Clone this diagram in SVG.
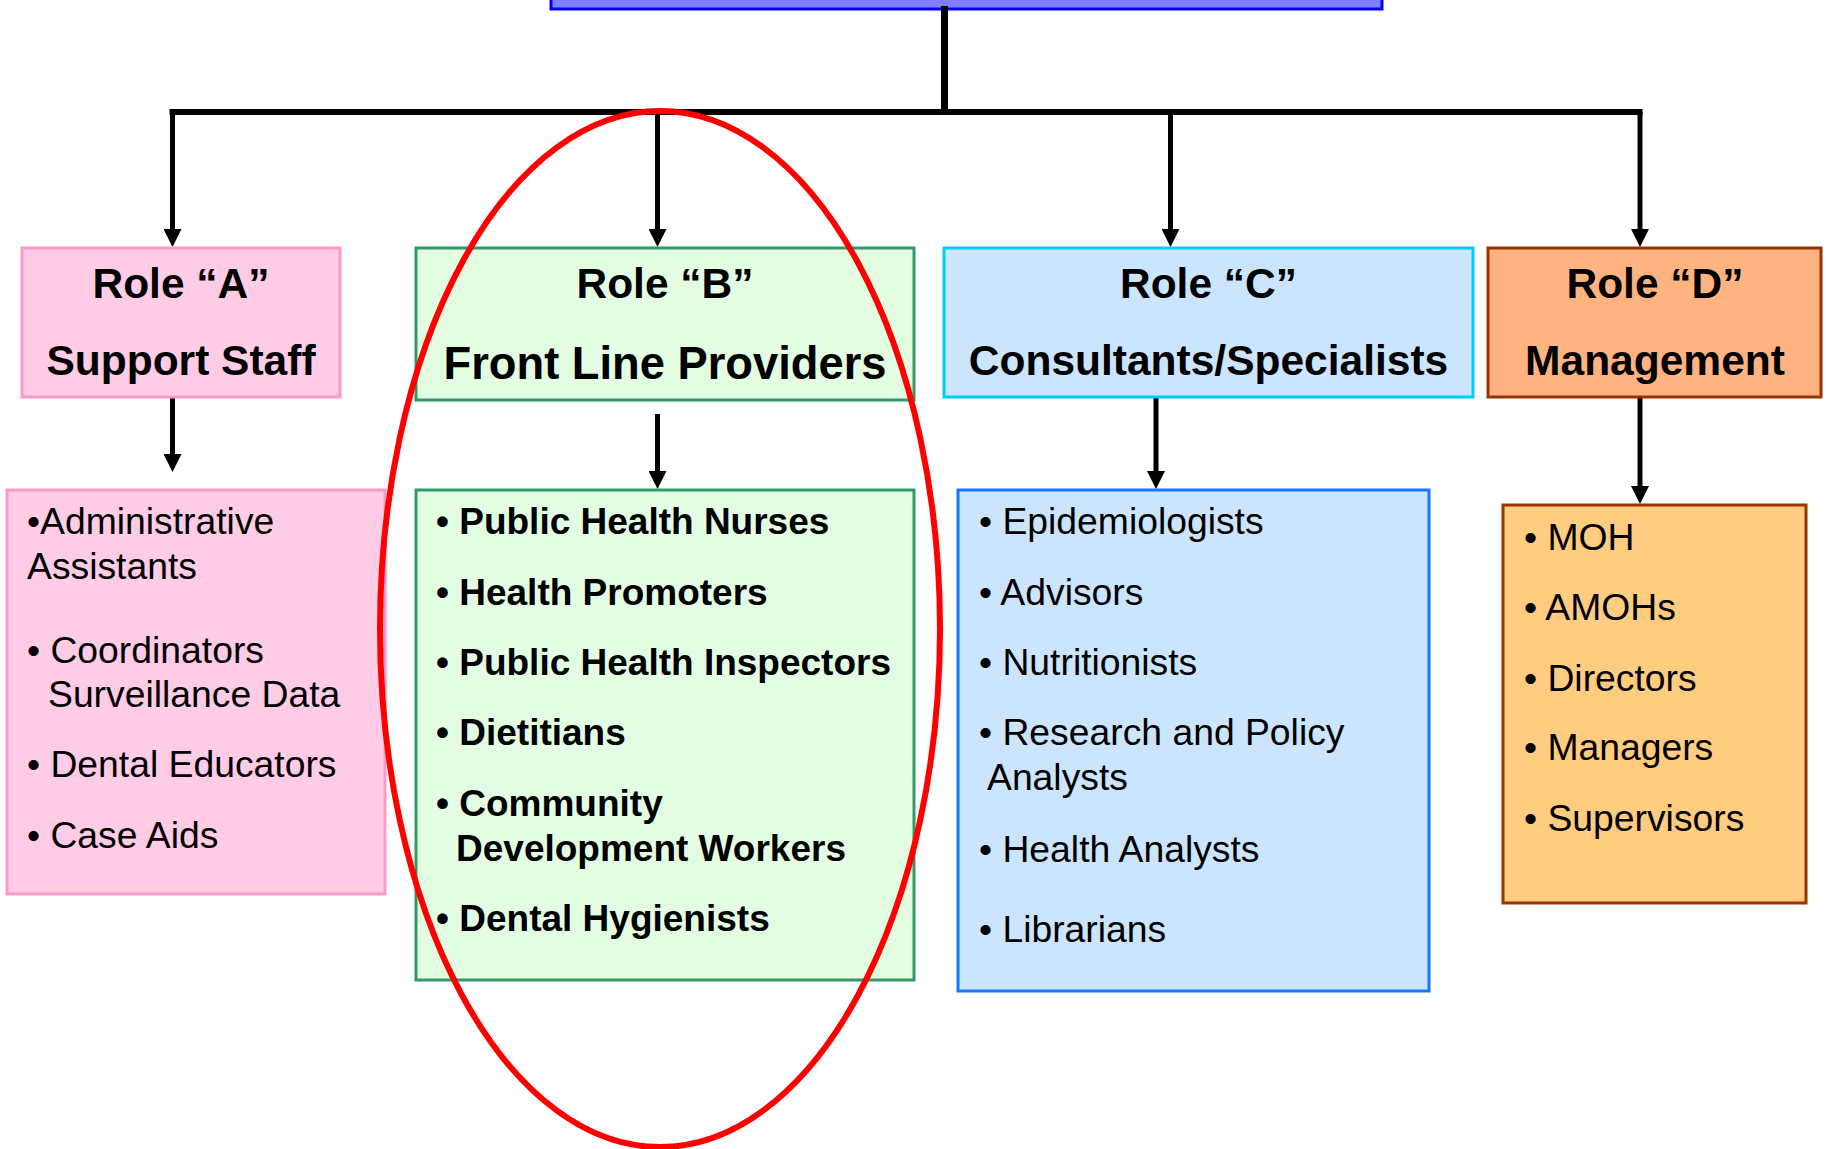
<svg xmlns="http://www.w3.org/2000/svg" width="1826" height="1149" viewBox="0 0 1826 1149">
<defs>
<style>
.hd{font-family:"Liberation Sans",Arial,sans-serif;font-weight:bold;font-size:42.5px;fill:#000;text-anchor:middle}
.li{font-family:"Liberation Sans",Arial,sans-serif;font-size:37.3px;fill:#000}
.lb{font-family:"Liberation Sans",Arial,sans-serif;font-size:37px;font-weight:bold;fill:#000}
.cn{fill:none;stroke:#000;stroke-width:5;marker-end:url(#ah)}
</style>
<marker id="ah" viewBox="0 0 18 18" refX="8" refY="9" markerWidth="18" markerHeight="18" markerUnits="userSpaceOnUse" orient="auto">
<path d="M0,0 L18,9 L0,18 z" fill="#000"/>
</marker>
</defs>
<rect width="1826" height="1149" fill="#fff"/>
<g id="top">
<rect x="551" y="-10" width="831" height="19" fill="#8080FF" stroke="#0000FF" stroke-width="3"/>
</g>
<g id="connectors">
<path d="M944.5,6 V112" stroke="#000" stroke-width="7" fill="none"/>
<path d="M169.5,112 H1642.5" stroke="#000" stroke-width="6" fill="none"/>
<path class="cn" d="M172.5,112 V237"/>
<path class="cn" d="M657.5,112 V237"/>
<path class="cn" d="M1170.5,112 V237"/>
<path class="cn" d="M1640,112 V237"/>
<path class="cn" d="M172.5,397 V462"/>
<path class="cn" d="M657.5,414 V479"/>
<path class="cn" d="M1156,397 V479"/>
<path class="cn" d="M1640,397 V494"/>
</g>
<g id="roleA">
<rect x="22" y="248" width="318" height="149" fill="#FFCCE5" stroke="#FF99CC" stroke-width="3"/>
<text class="hd" x="181" y="298">Role “A”</text>
<text class="hd" x="181" y="375">Support Staff</text>
</g>
<g id="roleB">
<rect x="416" y="248" width="498" height="152" fill="#E3FDE3" stroke="#339966" stroke-width="3"/>
<text class="hd" x="665" y="298">Role “B”</text>
<text class="hd" x="665" y="379" style="font-size:45.3px">Front Line Providers</text>
</g>
<g id="roleC">
<rect x="944" y="248" width="529" height="149" fill="#CCE5FF" stroke="#00CCFF" stroke-width="3"/>
<text class="hd" x="1208.5" y="298">Role “C”</text>
<text class="hd" x="1208.5" y="375">Consultants/Specialists</text>
</g>
<g id="roleD">
<rect x="1488" y="248" width="333" height="149" fill="#FFB380" stroke="#993300" stroke-width="3"/>
<text class="hd" x="1655" y="298">Role “D”</text>
<text class="hd" x="1655" y="375">Management</text>
</g>
<g id="listA">
<rect x="7" y="490" width="378" height="404" fill="#FFCCE5" stroke="#FF99CC" stroke-width="3"/>
<text class="li" x="27" y="534">•Administrative</text>
<text class="li" x="27" y="579">Assistants</text>
<text class="li" x="27" y="663">• Coordinators</text>
<text class="li" x="48" y="707">Surveillance Data</text>
<text class="li" x="27" y="777">• Dental Educators</text>
<text class="li" x="27" y="848">• Case Aids</text>
</g>
<g id="listB">
<rect x="416" y="490" width="498" height="490" fill="#E3FDE3" stroke="#339966" stroke-width="3"/>
<text class="lb" x="436" y="534">• Public Health Nurses</text>
<text class="lb" x="436" y="605">• Health Promoters</text>
<text class="lb" x="436" y="675">• Public Health Inspectors</text>
<text class="lb" x="436" y="745">• Dietitians</text>
<text class="lb" x="436" y="816">• Community</text>
<text class="lb" x="456" y="861">Development Workers</text>
<text class="lb" x="436" y="931">• Dental Hygienists</text>
</g>
<g id="listC">
<rect x="958" y="490" width="471" height="501" fill="#CCE5FF" stroke="#1A75FF" stroke-width="3"/>
<text class="li" x="979" y="534">• Epidemiologists</text>
<text class="li" x="979" y="605">• Advisors</text>
<text class="li" x="979" y="675">• Nutritionists</text>
<text class="li" x="979" y="745">• Research and Policy</text>
<text class="li" x="987" y="790">Analysts</text>
<text class="li" x="979" y="862">• Health Analysts</text>
<text class="li" x="979" y="942">• Librarians</text>
</g>
<g id="listD">
<rect x="1503" y="505" width="303" height="398" fill="#FFCC80" stroke="#993300" stroke-width="3"/>
<text class="li" x="1524" y="550">• MOH</text>
<text class="li" x="1524" y="620">• AMOHs</text>
<text class="li" x="1524" y="691">• Directors</text>
<text class="li" x="1524" y="760">• Managers</text>
<text class="li" x="1524" y="831">• Supervisors</text>
</g>
<g id="highlight">
<ellipse cx="660" cy="629" rx="280" ry="518" fill="none" stroke="#FF0000" stroke-width="6"/>
</g>
</svg>
